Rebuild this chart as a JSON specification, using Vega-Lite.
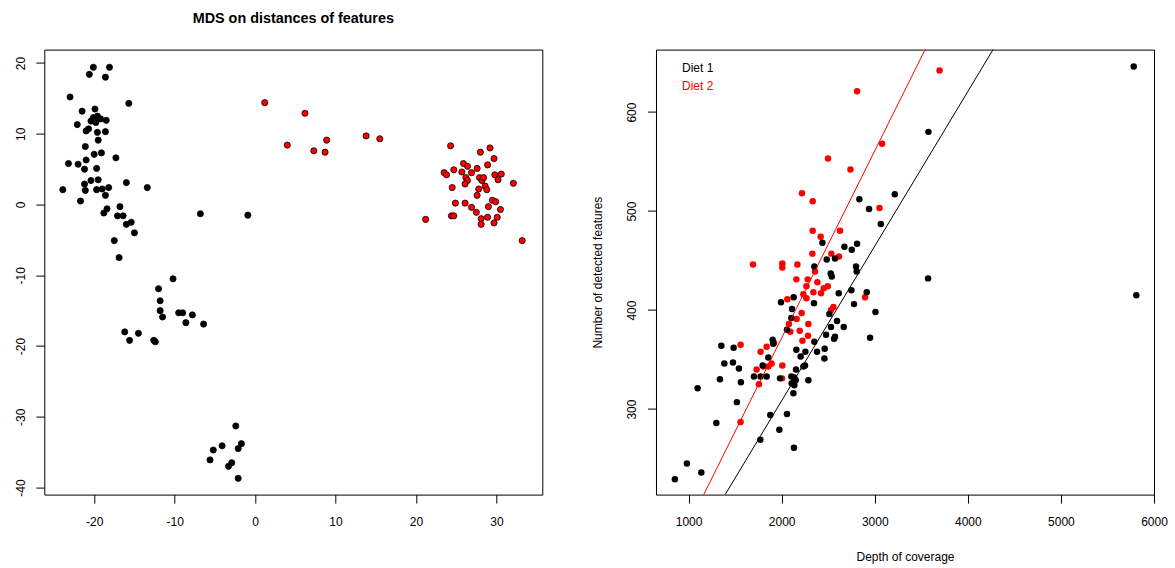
{
  "$schema": "https://vega.github.io/schema/vega-lite/v6.json",
  "padding": {"left": 7.3, "top": 10.6, "right": 5, "bottom": 5},
  "background": "white",
  "bounds": "flush",
  "spacing": 113.7,
  "config": {
    "font": "Liberation Sans",
    "view": {"stroke": "black", "strokeWidth": 1},
    "axis": {"domain": false, "grid": false, "ticks": true, "tickColor": "black", "tickSize": 8.5, "tickWidth": 1,
      "labelFont": "Liberation Sans", "labelFontSize": 12, "labelColor": "black", "labelFlush": false, "labelOverlap": false,
      "titleFont": "Liberation Sans", "titleFontSize": 12, "titleFontWeight": "normal", "titleColor": "black",
      "labelExpr": "datum.value < 0 ? '-' + abs(datum.value) : '' + datum.value"},
    "axisX": {"labelBaseline": "alphabetic", "labelPadding": 22.8, "minExtent": 34, "maxExtent": 34, "titleBaseline": "alphabetic", "titlePadding": 32.3},
    "axisY": {"labelAngle": -90, "labelAlign": "center", "labelBaseline": "alphabetic", "labelPadding": 11.5, "minExtent": 36, "maxExtent": 36, "titleAngle": -90, "titleBaseline": "alphabetic", "titlePadding": 18.5}
  },
  "resolve": {"scale": {"color": "independent", "fill": "independent"}, "legend": {"color": "independent", "fill": "independent"}},
  "hconcat": [
    {
      "width": 498,
      "height": 445,
      "title": {"text": "MDS on distances of features", "font": "Liberation Sans", "fontSize": 14.4, "fontWeight": "bold", "anchor": "middle", "frame": "group", "baseline": "alphabetic", "offset": 12, "color": "black"},
      "data": {"values": [
        {"x": -20.1, "y": 19.4, "diet": "Diet 1"}, {"x": -18.1, "y": 19.4, "diet": "Diet 1"}, {"x": -20.6, "y": 18.4, "diet": "Diet 1"}, {"x": -18.6, "y": 18.0, "diet": "Diet 1"},
        {"x": -23.0, "y": 15.2, "diet": "Diet 1"}, {"x": -15.7, "y": 14.3, "diet": "Diet 1"}, {"x": -21.5, "y": 13.2, "diet": "Diet 1"}, {"x": -19.9, "y": 13.5, "diet": "Diet 1"},
        {"x": -20.1, "y": 12.3, "diet": "Diet 1"}, {"x": -19.6, "y": 12.5, "diet": "Diet 1"}, {"x": -19.2, "y": 12.1, "diet": "Diet 1"}, {"x": -18.5, "y": 11.9, "diet": "Diet 1"},
        {"x": -20.4, "y": 11.8, "diet": "Diet 1"}, {"x": -19.8, "y": 11.6, "diet": "Diet 1"}, {"x": -22.1, "y": 11.3, "diet": "Diet 1"}, {"x": -21.0, "y": 10.4, "diet": "Diet 1"},
        {"x": -20.7, "y": 10.7, "diet": "Diet 1"}, {"x": -19.6, "y": 10.2, "diet": "Diet 1"}, {"x": -18.6, "y": 10.3, "diet": "Diet 1"}, {"x": -19.5, "y": 9.1, "diet": "Diet 1"},
        {"x": -21.1, "y": 8.2, "diet": "Diet 1"}, {"x": -20.0, "y": 7.1, "diet": "Diet 1"}, {"x": -19.1, "y": 7.3, "diet": "Diet 1"}, {"x": -17.3, "y": 6.6, "diet": "Diet 1"},
        {"x": -23.2, "y": 5.8, "diet": "Diet 1"}, {"x": -22.0, "y": 5.7, "diet": "Diet 1"}, {"x": -21.0, "y": 6.3, "diet": "Diet 1"}, {"x": -21.2, "y": 5.0, "diet": "Diet 1"},
        {"x": -19.7, "y": 5.1, "diet": "Diet 1"}, {"x": -16.0, "y": 3.1, "diet": "Diet 1"}, {"x": -13.4, "y": 2.4, "diet": "Diet 1"}, {"x": -23.9, "y": 2.1, "diet": "Diet 1"},
        {"x": -21.2, "y": 2.9, "diet": "Diet 1"}, {"x": -20.4, "y": 3.4, "diet": "Diet 1"}, {"x": -19.5, "y": 3.5, "diet": "Diet 1"}, {"x": -21.1, "y": 2.0, "diet": "Diet 1"},
        {"x": -19.7, "y": 2.1, "diet": "Diet 1"}, {"x": -19.0, "y": 2.2, "diet": "Diet 1"}, {"x": -18.2, "y": 2.4, "diet": "Diet 1"}, {"x": -18.6, "y": 1.3, "diet": "Diet 1"},
        {"x": -21.7, "y": 0.5, "diet": "Diet 1"}, {"x": -18.8, "y": -1.2, "diet": "Diet 1"}, {"x": -18.4, "y": -0.6, "diet": "Diet 1"}, {"x": -16.8, "y": -0.3, "diet": "Diet 1"},
        {"x": -17.1, "y": -1.6, "diet": "Diet 1"}, {"x": -16.4, "y": -1.6, "diet": "Diet 1"}, {"x": -16.0, "y": -2.8, "diet": "Diet 1"}, {"x": -15.4, "y": -2.5, "diet": "Diet 1"},
        {"x": -15.0, "y": -4.0, "diet": "Diet 1"}, {"x": -17.5, "y": -5.1, "diet": "Diet 1"}, {"x": -16.9, "y": -7.5, "diet": "Diet 1"}, {"x": -6.8, "y": -1.3, "diet": "Diet 1"},
        {"x": -0.9, "y": -1.5, "diet": "Diet 1"},
        {"x": -10.2, "y": -10.5, "diet": "Diet 1"}, {"x": -12.0, "y": -11.9, "diet": "Diet 1"}, {"x": -11.8, "y": -13.6, "diet": "Diet 1"}, {"x": -11.8, "y": -15.0, "diet": "Diet 1"},
        {"x": -11.5, "y": -15.9, "diet": "Diet 1"}, {"x": -9.5, "y": -15.3, "diet": "Diet 1"}, {"x": -9.0, "y": -15.3, "diet": "Diet 1"}, {"x": -7.8, "y": -15.6, "diet": "Diet 1"},
        {"x": -8.6, "y": -16.7, "diet": "Diet 1"}, {"x": -6.4, "y": -16.9, "diet": "Diet 1"}, {"x": -12.6, "y": -19.2, "diet": "Diet 1"}, {"x": -12.4, "y": -19.4, "diet": "Diet 1"},
        {"x": -16.2, "y": -18.0, "diet": "Diet 1"}, {"x": -14.5, "y": -18.2, "diet": "Diet 1"}, {"x": -15.6, "y": -19.2, "diet": "Diet 1"},
        {"x": -2.4, "y": -31.3, "diet": "Diet 1"}, {"x": -4.1, "y": -34.1, "diet": "Diet 1"}, {"x": -1.7, "y": -33.8, "diet": "Diet 1"}, {"x": -2.1, "y": -34.5, "diet": "Diet 1"},
        {"x": -5.2, "y": -34.7, "diet": "Diet 1"}, {"x": -5.6, "y": -36.1, "diet": "Diet 1"}, {"x": -2.9, "y": -36.5, "diet": "Diet 1"}, {"x": -3.3, "y": -37.0, "diet": "Diet 1"},
        {"x": -2.1, "y": -38.7, "diet": "Diet 1"},
        {"x": 1.2, "y": 14.4, "diet": "Diet 2"}, {"x": 6.2, "y": 12.9, "diet": "Diet 2"}, {"x": 4.0, "y": 8.4, "diet": "Diet 2"}, {"x": 8.9, "y": 9.1, "diet": "Diet 2"},
        {"x": 7.3, "y": 7.6, "diet": "Diet 2"}, {"x": 8.7, "y": 7.4, "diet": "Diet 2"}, {"x": 13.8, "y": 9.7, "diet": "Diet 2"}, {"x": 15.5, "y": 9.3, "diet": "Diet 2"},
        {"x": 24.3, "y": 8.3, "diet": "Diet 2"}, {"x": 28.0, "y": 7.4, "diet": "Diet 2"}, {"x": 29.2, "y": 8.0, "diet": "Diet 2"}, {"x": 29.7, "y": 6.5, "diet": "Diet 2"},
        {"x": 28.9, "y": 5.6, "diet": "Diet 2"}, {"x": 25.9, "y": 5.8, "diet": "Diet 2"}, {"x": 26.4, "y": 5.4, "diet": "Diet 2"}, {"x": 25.7, "y": 4.6, "diet": "Diet 2"},
        {"x": 26.9, "y": 4.5, "diet": "Diet 2"}, {"x": 27.6, "y": 5.1, "diet": "Diet 2"}, {"x": 23.5, "y": 4.5, "diet": "Diet 2"}, {"x": 23.8, "y": 4.2, "diet": "Diet 2"},
        {"x": 24.7, "y": 4.9, "diet": "Diet 2"}, {"x": 29.8, "y": 4.2, "diet": "Diet 2"}, {"x": 30.6, "y": 4.3, "diet": "Diet 2"}, {"x": 30.2, "y": 3.5, "diet": "Diet 2"},
        {"x": 32.1, "y": 3.0, "diet": "Diet 2"}, {"x": 26.2, "y": 3.8, "diet": "Diet 2"}, {"x": 26.4, "y": 3.4, "diet": "Diet 2"}, {"x": 26.1, "y": 2.9, "diet": "Diet 2"},
        {"x": 27.9, "y": 3.8, "diet": "Diet 2"}, {"x": 28.2, "y": 3.4, "diet": "Diet 2"}, {"x": 28.4, "y": 3.8, "diet": "Diet 2"}, {"x": 28.6, "y": 2.6, "diet": "Diet 2"},
        {"x": 28.8, "y": 2.1, "diet": "Diet 2"}, {"x": 27.8, "y": 2.2, "diet": "Diet 2"}, {"x": 27.6, "y": 1.3, "diet": "Diet 2"}, {"x": 24.5, "y": 2.4, "diet": "Diet 2"},
        {"x": 24.9, "y": 0.2, "diet": "Diet 2"}, {"x": 26.1, "y": 0.2, "diet": "Diet 2"}, {"x": 26.9, "y": -0.4, "diet": "Diet 2"}, {"x": 27.5, "y": -1.1, "diet": "Diet 2"},
        {"x": 29.5, "y": 0.6, "diet": "Diet 2"}, {"x": 29.9, "y": 0.4, "diet": "Diet 2"}, {"x": 29.0, "y": -0.3, "diet": "Diet 2"}, {"x": 30.5, "y": -0.7, "diet": "Diet 2"},
        {"x": 24.4, "y": -1.6, "diet": "Diet 2"}, {"x": 24.7, "y": -1.6, "diet": "Diet 2"}, {"x": 28.1, "y": -2.0, "diet": "Diet 2"}, {"x": 28.9, "y": -1.8, "diet": "Diet 2"},
        {"x": 30.1, "y": -1.8, "diet": "Diet 2"}, {"x": 28.1, "y": -2.8, "diet": "Diet 2"}, {"x": 29.7, "y": -2.6, "diet": "Diet 2"}, {"x": 21.2, "y": -2.1, "diet": "Diet 2"},
        {"x": 33.2, "y": -5.1, "diet": "Diet 2"}
      ]},
      "mark": {"type": "point", "filled": true, "size": 38, "stroke": "black", "strokeWidth": 0.8, "opacity": 1},
      "encoding": {
        "x": {"field": "x", "type": "quantitative", "scale": {"domain": [-26.2, 35.7], "nice": false, "zero": false}, "axis": {"values": [-20, -10, 0, 10, 20, 30], "title": null}},
        "y": {"field": "y", "type": "quantitative", "scale": {"domain": [-41.0, 21.9], "nice": false, "zero": false}, "axis": {"values": [-40, -30, -20, -10, 0, 10, 20], "title": null}},
        "fill": {"field": "diet", "type": "nominal", "scale": {"domain": ["Diet 1", "Diet 2"], "range": ["black", "red"]}, "legend": null}
      }
    },
    {
      "width": 498,
      "height": 445,
      "layer": [
        {
          "data": {"values": [
            {"depth": 2810, "features": 621, "diet": "Diet 2"}, {"depth": 2498, "features": 553, "diet": "Diet 2"}, {"depth": 2739, "features": 542, "diet": "Diet 2"}, {"depth": 2218, "features": 518, "diet": "Diet 2"},
            {"depth": 2333, "features": 510, "diet": "Diet 2"}, {"depth": 2333, "features": 480, "diet": "Diet 2"}, {"depth": 2419, "features": 474, "diet": "Diet 2"}, {"depth": 2627, "features": 480, "diet": "Diet 2"},
            {"depth": 3696, "features": 642, "diet": "Diet 2"}, {"depth": 3079, "features": 568, "diet": "Diet 2"}, {"depth": 3051, "features": 503, "diet": "Diet 2"}, {"depth": 2896, "features": 413, "diet": "Diet 2"},
            {"depth": 2330, "features": 457, "diet": "Diet 2"}, {"depth": 2534, "features": 457, "diet": "Diet 2"}, {"depth": 2616, "features": 454, "diet": "Diet 2"}, {"depth": 2358, "features": 439, "diet": "Diet 2"},
            {"depth": 2280, "features": 431, "diet": "Diet 2"}, {"depth": 2384, "features": 428, "diet": "Diet 2"}, {"depth": 2266, "features": 424, "diet": "Diet 2"}, {"depth": 2341, "features": 418, "diet": "Diet 2"},
            {"depth": 2423, "features": 417, "diet": "Diet 2"}, {"depth": 2452, "features": 422, "diet": "Diet 2"}, {"depth": 2495, "features": 424, "diet": "Diet 2"}, {"depth": 2233, "features": 416, "diet": "Diet 2"},
            {"depth": 2266, "features": 412, "diet": "Diet 2"}, {"depth": 2556, "features": 403, "diet": "Diet 2"}, {"depth": 2530, "features": 400, "diet": "Diet 2"}, {"depth": 2215, "features": 397, "diet": "Diet 2"},
            {"depth": 2287, "features": 386, "diet": "Diet 2"}, {"depth": 1692, "features": 446, "diet": "Diet 2"}, {"depth": 2007, "features": 447, "diet": "Diet 2"}, {"depth": 2007, "features": 443, "diet": "Diet 2"},
            {"depth": 2169, "features": 446, "diet": "Diet 2"}, {"depth": 2158, "features": 431, "diet": "Diet 2"}, {"depth": 2061, "features": 411, "diet": "Diet 2"}, {"depth": 2161, "features": 391, "diet": "Diet 2"},
            {"depth": 2093, "features": 378, "diet": "Diet 2"}, {"depth": 2078, "features": 386, "diet": "Diet 2"}, {"depth": 2194, "features": 379, "diet": "Diet 2"}, {"depth": 2283, "features": 374, "diet": "Diet 2"},
            {"depth": 2223, "features": 369, "diet": "Diet 2"}, {"depth": 1559, "features": 365, "diet": "Diet 2"}, {"depth": 1839, "features": 363, "diet": "Diet 2"}, {"depth": 1774, "features": 358, "diet": "Diet 2"},
            {"depth": 1917, "features": 367, "diet": "Diet 2"}, {"depth": 1806, "features": 343, "diet": "Diet 2"}, {"depth": 1857, "features": 343, "diet": "Diet 2"}, {"depth": 1892, "features": 346, "diet": "Diet 2"},
            {"depth": 1731, "features": 340, "diet": "Diet 2"}, {"depth": 2007, "features": 344, "diet": "Diet 2"}, {"depth": 1756, "features": 325, "diet": "Diet 2"}, {"depth": 2004, "features": 331, "diet": "Diet 2"},
            {"depth": 1559, "features": 287, "diet": "Diet 2"},
            {"depth": 2835, "features": 512, "diet": "Diet 1"}, {"depth": 5782, "features": 646, "diet": "Diet 1"}, {"depth": 3577, "features": 580, "diet": "Diet 1"}, {"depth": 3215, "features": 517, "diet": "Diet 1"},
            {"depth": 2939, "features": 502, "diet": "Diet 1"}, {"depth": 3065, "features": 487, "diet": "Diet 1"}, {"depth": 3573, "features": 432, "diet": "Diet 1"}, {"depth": 5810, "features": 415, "diet": "Diet 1"},
            {"depth": 2914, "features": 418, "diet": "Diet 1"}, {"depth": 3008, "features": 398, "diet": "Diet 1"}, {"depth": 2950, "features": 372, "diet": "Diet 1"}, {"depth": 2438, "features": 468, "diet": "Diet 1"},
            {"depth": 2674, "features": 464, "diet": "Diet 1"}, {"depth": 2753, "features": 461, "diet": "Diet 1"}, {"depth": 2810, "features": 467, "diet": "Diet 1"}, {"depth": 2484, "features": 451, "diet": "Diet 1"},
            {"depth": 2573, "features": 452, "diet": "Diet 1"}, {"depth": 2351, "features": 444, "diet": "Diet 1"}, {"depth": 2799, "features": 444, "diet": "Diet 1"}, {"depth": 2806, "features": 439, "diet": "Diet 1"},
            {"depth": 2527, "features": 437, "diet": "Diet 1"}, {"depth": 2538, "features": 434, "diet": "Diet 1"}, {"depth": 2749, "features": 420, "diet": "Diet 1"}, {"depth": 2613, "features": 417, "diet": "Diet 1"},
            {"depth": 2347, "features": 407, "diet": "Diet 1"}, {"depth": 2777, "features": 406, "diet": "Diet 1"}, {"depth": 2513, "features": 396, "diet": "Diet 1"}, {"depth": 2595, "features": 389, "diet": "Diet 1"},
            {"depth": 2667, "features": 383, "diet": "Diet 1"}, {"depth": 2530, "features": 383, "diet": "Diet 1"}, {"depth": 2129, "features": 413, "diet": "Diet 1"}, {"depth": 1993, "features": 408, "diet": "Diet 1"},
            {"depth": 2111, "features": 401, "diet": "Diet 1"}, {"depth": 2104, "features": 392, "diet": "Diet 1"}, {"depth": 2057, "features": 380, "diet": "Diet 1"}, {"depth": 2573, "features": 373, "diet": "Diet 1"},
            {"depth": 2563, "features": 371, "diet": "Diet 1"}, {"depth": 2477, "features": 375, "diet": "Diet 1"}, {"depth": 1903, "features": 370, "diet": "Diet 1"}, {"depth": 1910, "features": 366, "diet": "Diet 1"},
            {"depth": 2351, "features": 368, "diet": "Diet 1"}, {"depth": 1352, "features": 364, "diet": "Diet 1"}, {"depth": 1484, "features": 362, "diet": "Diet 1"}, {"depth": 2158, "features": 360, "diet": "Diet 1"},
            {"depth": 2255, "features": 358, "diet": "Diet 1"}, {"depth": 2204, "features": 353, "diet": "Diet 1"}, {"depth": 2380, "features": 358, "diet": "Diet 1"}, {"depth": 2462, "features": 361, "diet": "Diet 1"},
            {"depth": 2459, "features": 351, "diet": "Diet 1"}, {"depth": 1857, "features": 352, "diet": "Diet 1"}, {"depth": 1384, "features": 346, "diet": "Diet 1"}, {"depth": 1477, "features": 347, "diet": "Diet 1"},
            {"depth": 1541, "features": 341, "diet": "Diet 1"}, {"depth": 2251, "features": 344, "diet": "Diet 1"}, {"depth": 2233, "features": 343, "diet": "Diet 1"}, {"depth": 2154, "features": 340, "diet": "Diet 1"},
            {"depth": 1796, "features": 344, "diet": "Diet 1"}, {"depth": 1702, "features": 333, "diet": "Diet 1"}, {"depth": 1774, "features": 333, "diet": "Diet 1"}, {"depth": 1839, "features": 333, "diet": "Diet 1"},
            {"depth": 1982, "features": 331, "diet": "Diet 1"}, {"depth": 2104, "features": 333, "diet": "Diet 1"}, {"depth": 2136, "features": 332, "diet": "Diet 1"}, {"depth": 2151, "features": 329, "diet": "Diet 1"},
            {"depth": 2108, "features": 326, "diet": "Diet 1"}, {"depth": 2136, "features": 324, "diet": "Diet 1"}, {"depth": 1337, "features": 330, "diet": "Diet 1"}, {"depth": 1562, "features": 327, "diet": "Diet 1"},
            {"depth": 2287, "features": 329, "diet": "Diet 1"}, {"depth": 1097, "features": 321, "diet": "Diet 1"}, {"depth": 2126, "features": 316, "diet": "Diet 1"}, {"depth": 1519, "features": 307, "diet": "Diet 1"},
            {"depth": 1298, "features": 286, "diet": "Diet 1"}, {"depth": 1878, "features": 294, "diet": "Diet 1"}, {"depth": 2057, "features": 295, "diet": "Diet 1"}, {"depth": 1975, "features": 279, "diet": "Diet 1"},
            {"depth": 1771, "features": 269, "diet": "Diet 1"}, {"depth": 2132, "features": 261, "diet": "Diet 1"}, {"depth": 982, "features": 245, "diet": "Diet 1"}, {"depth": 1137, "features": 236, "diet": "Diet 1"},
            {"depth": 853, "features": 229, "diet": "Diet 1"}
          ]},
          "mark": {"type": "circle", "size": 42, "opacity": 1},
          "encoding": {
            "x": {"field": "depth", "type": "quantitative", "scale": {"domain": [650, 6000], "nice": false, "zero": false}, "axis": {"values": [1000, 2000, 3000, 4000, 5000, 6000], "title": "Depth of coverage"}},
            "y": {"field": "features", "type": "quantitative", "scale": {"domain": [213.6, 663.1], "nice": false, "zero": false}, "axis": {"values": [300, 400, 500, 600], "title": "Number of detected features"}},
            "color": {"field": "diet", "type": "nominal", "scale": {"domain": ["Diet 1", "Diet 2"], "range": ["black", "red"]},
              "legend": {"title": null, "orient": "none", "legendX": 10, "legendY": 12.5, "symbolSize": 0, "symbolOpacity": 0, "symbolStrokeWidth": 0,
                "labelFont": "Liberation Sans", "labelFontSize": 12, "labelOffset": 4, "rowPadding": 6, "padding": 0,
                "encode": {"labels": {"update": {"fill": {"signal": "datum.value === 'Diet 1' ? 'black' : 'red'"}}}}}}
          }
        },
        {
          "data": {"values": [
            {"depth": 650, "features": 116.7, "diet": "Diet 2"}, {"depth": 4000, "features": 749.9, "diet": "Diet 2"},
            {"depth": 650, "features": 97.5, "diet": "Diet 1"}, {"depth": 4600, "features": 714.5, "diet": "Diet 1"}
          ]},
          "mark": {"type": "line", "clip": true, "strokeWidth": 1},
          "encoding": {
            "x": {"field": "depth", "type": "quantitative"},
            "y": {"field": "features", "type": "quantitative"},
            "color": {"field": "diet", "type": "nominal"}
          }
        }
      ]
    }
  ]
}
